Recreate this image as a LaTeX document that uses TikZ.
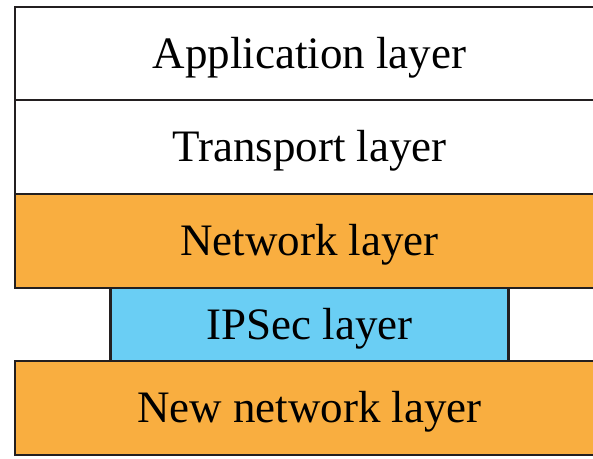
\documentclass[tikz,border=0pt]{standalone}
\usepackage{fontspec}
\setmainfont{Liberation Serif}
\usetikzlibrary{positioning}

\definecolor{layerorange}{RGB}{249,174,64}
\definecolor{layerblue}{RGB}{106,206,244}
\definecolor{layerline}{RGB}{35,31,32}

\begin{document}
\begin{tikzpicture}[x=1pt,y=-1pt]
    \tikzset{layer/.style= {draw=layerline, rectangle
    , line width=2.6pt
    , outer sep=0pt
    , inner sep=0pt
    , minimum width=589pt
    , minimum height=94pt
    , text depth=2pt
    , font=\fontsize{45}{54}\selectfont
      }
    }

\clip (0,0) rectangle (593,458);

\node [layer, minimum height=93pt] (app) at (309.5,53.5) {Application layer};
\node [layer, below=0pt of app] (transport) {Transport layer};
\node [layer, fill=layerorange, below=0pt of transport] (network) {Network layer};
\node [layer, fill=layerblue, minimum width=398pt, minimum height=73pt,
       below=0pt of network] (ipsec) {IPSec layer};
\node [layer, fill=layerorange, below=0pt of ipsec] (newnet) {New network layer};
\end{tikzpicture}
\end{document}
